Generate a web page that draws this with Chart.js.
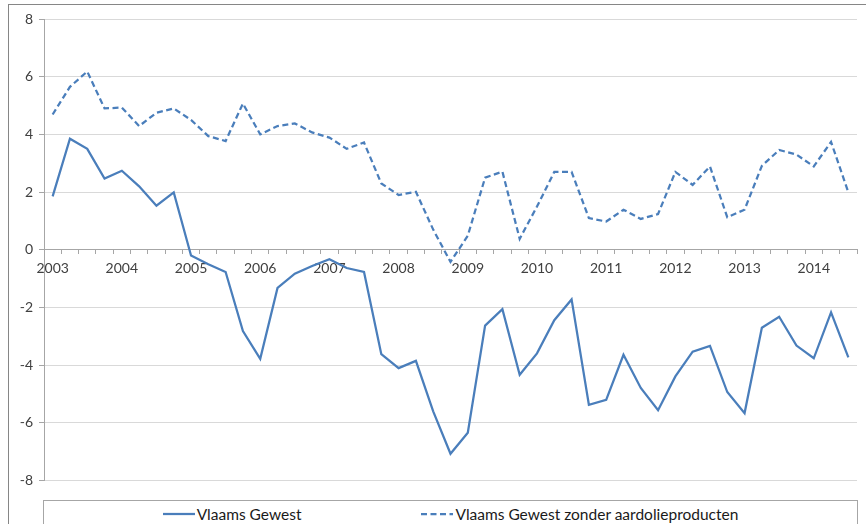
<!DOCTYPE html>
<html>
<head>
<meta charset="utf-8">
<script src="https://cdn.jsdelivr.net/npm/chart.js@4/dist/chart.umd.min.js"></script>
<style>
    body { margin: 0; background: #fff; overflow: hidden; width: 866px; height: 524px; }
    #frame {
        position: absolute; left: 8px; top: 4px; width: 870px; height: 540px;
        border-left: 1px solid #868686; border-top: 1px solid #868686;
    }
    #chart-wrap { position: absolute; left: 0; top: 0; width: 866px; height: 495px; }
    #legend {
        position: absolute; left: 43px; top: 500px; width: 813px; height: 30px;
        border: 1px solid #a6a6a6; background: #fff;
        display: flex; align-items: center; justify-content: center; gap: 120px;
        font-family: Lato, 'Open Sans', sans-serif; font-size: 15.5px; color: #1a1a1a;
    }
    .legend-item { display: flex; align-items: center; margin-top: -5px; }
    .legend-item svg { margin-right: 2px; }
</style>
</head>
<body>
<div id="frame"></div>
<div id="chart-wrap"><canvas id="chartMain"></canvas></div>
<div id="legend"></div>

<script>
// Data (quarterly, 2003 K1 - 2014 K3)
const quarters = [
    '2003 K1', '2003 K2', '2003 K3', '2003 K4',
    '2004 K1', '2004 K2', '2004 K3', '2004 K4',
    '2005 K1', '2005 K2', '2005 K3', '2005 K4',
    '2006 K1', '2006 K2', '2006 K3', '2006 K4',
    '2007 K1', '2007 K2', '2007 K3', '2007 K4',
    '2008 K1', '2008 K2', '2008 K3', '2008 K4',
    '2009 K1', '2009 K2', '2009 K3', '2009 K4',
    '2010 K1', '2010 K2', '2010 K3', '2010 K4',
    '2011 K1', '2011 K2', '2011 K3', '2011 K4',
    '2012 K1', '2012 K2', '2012 K3', '2012 K4',
    '2013 K1', '2013 K2', '2013 K3', '2013 K4',
    '2014 K1', '2014 K2', '2014 K3'
];

const vlaamsGewest = [
    1.85, 3.85, 3.5, 2.47, 2.74, 2.2, 1.53, 1.99,
    -0.2, -0.5, -0.77, -2.82, -3.78, -1.32, -0.83, -0.56,
    -0.33, -0.63, -0.77, -3.62, -4.1, -3.85, -5.6, -7.07,
    -6.34, -2.63, -2.06, -4.33, -3.59, -2.44, -1.72, -5.37,
    -5.2, -3.64, -4.79, -5.56, -4.39, -3.53, -3.33, -4.93,
    -5.66, -2.7, -2.32, -3.32, -3.76, -2.17, -3.73
];

const zonderAardolie = [
    4.69, 5.65, 6.18, 4.9, 4.93, 4.29, 4.75, 4.9,
    4.5, 3.94, 3.77, 5.07, 4.0, 4.29, 4.38, 4.07,
    3.89, 3.5, 3.72, 2.3, 1.9, 2.01, 0.7, -0.42,
    0.49, 2.5, 2.71, 0.38, 1.5, 2.7, 2.7, 1.1,
    0.98, 1.39, 1.07, 1.24, 2.7, 2.25, 2.89, 1.13,
    1.39, 2.91, 3.46, 3.3, 2.89, 3.74, 1.99
];

const seriesNames = ['Vlaams Gewest', 'Vlaams Gewest zonder aardolieproducten'];
const yTicks = { min: -8, max: 8, step: 2 };

const LINE_COLOR = '#4a7ebb';
const AXIS_COLOR = '#a6a6a6';
const GRID_COLOR = '#d9d9d9';
const TEXT_COLOR = '#404040';
const DASH = [6, 3.5];

Chart.defaults.font.family = "Lato, 'Open Sans', sans-serif";
Chart.defaults.font.size = 14;
Chart.defaults.color = TEXT_COLOR;

const ctx = document.getElementById('chartMain').getContext('2d');
const chart = new Chart(ctx, {
    type: 'line',
    data: {
        labels: quarters,
        datasets: [
            {
                label: seriesNames[0],
                data: vlaamsGewest,
                borderColor: LINE_COLOR,
                borderWidth: 2.25,
                pointRadius: 0,
                tension: 0
            },
            {
                label: seriesNames[1],
                data: zonderAardolie,
                borderColor: LINE_COLOR,
                borderWidth: 2.25,
                borderDash: DASH,
                pointRadius: 0,
                tension: 0
            }
        ]
    },
    options: {
        responsive: true,
        maintainAspectRatio: false,
        animation: false,
        layout: { padding: { left: 8, right: 9, top: 19, bottom: 12 } },
        plugins: {
            legend: { display: false },
            tooltip: { enabled: false }
        },
        scales: {
            x: {
                type: 'category',
                position: { y: 0 },
                offset: true,
                grid: {
                    offset: true,
                    drawOnChartArea: false,
                    drawTicks: true,
                    tickLength: 4,
                    tickColor: AXIS_COLOR
                },
                border: { display: true, color: AXIS_COLOR },
                ticks: {
                    autoSkip: false,
                    maxRotation: 0,
                    padding: 6,
                    color: TEXT_COLOR,
                    callback: function (value) {
                        const label = this.getLabelForValue(value);
                        return label.endsWith('K1') ? label.slice(0, 4) : '';
                    }
                }
            },
            y: {
                min: yTicks.min,
                max: yTicks.max,
                afterFit: (scale) => { scale.width = 36; },
                grid: {
                    color: GRID_COLOR,
                    tickLength: 5,
                    tickColor: AXIS_COLOR
                },
                border: { display: true, color: AXIS_COLOR },
                ticks: {
                    stepSize: yTicks.step,
                    padding: 6,
                    color: TEXT_COLOR
                }
            }
        }
    }
});

// HTML legend built from the datasets
function buildLegend(chart) {
    const box = document.getElementById('legend');
    box.innerHTML = '';
    chart.data.datasets.forEach(ds => {
        const item = document.createElement('div');
        item.className = 'legend-item';
        const dash = ds.borderDash ? `stroke-dasharray="${ds.borderDash.join(' ')}"` : '';
        item.innerHTML =
            `<svg width="32" height="6"><line x1="0" y1="3" x2="32" y2="3" stroke="${ds.borderColor}" stroke-width="2.25" ${dash}/></svg>` +
            `<span>${ds.label}</span>`;
        box.appendChild(item);
    });
}
buildLegend(chart);
</script>
</body>
</html>
